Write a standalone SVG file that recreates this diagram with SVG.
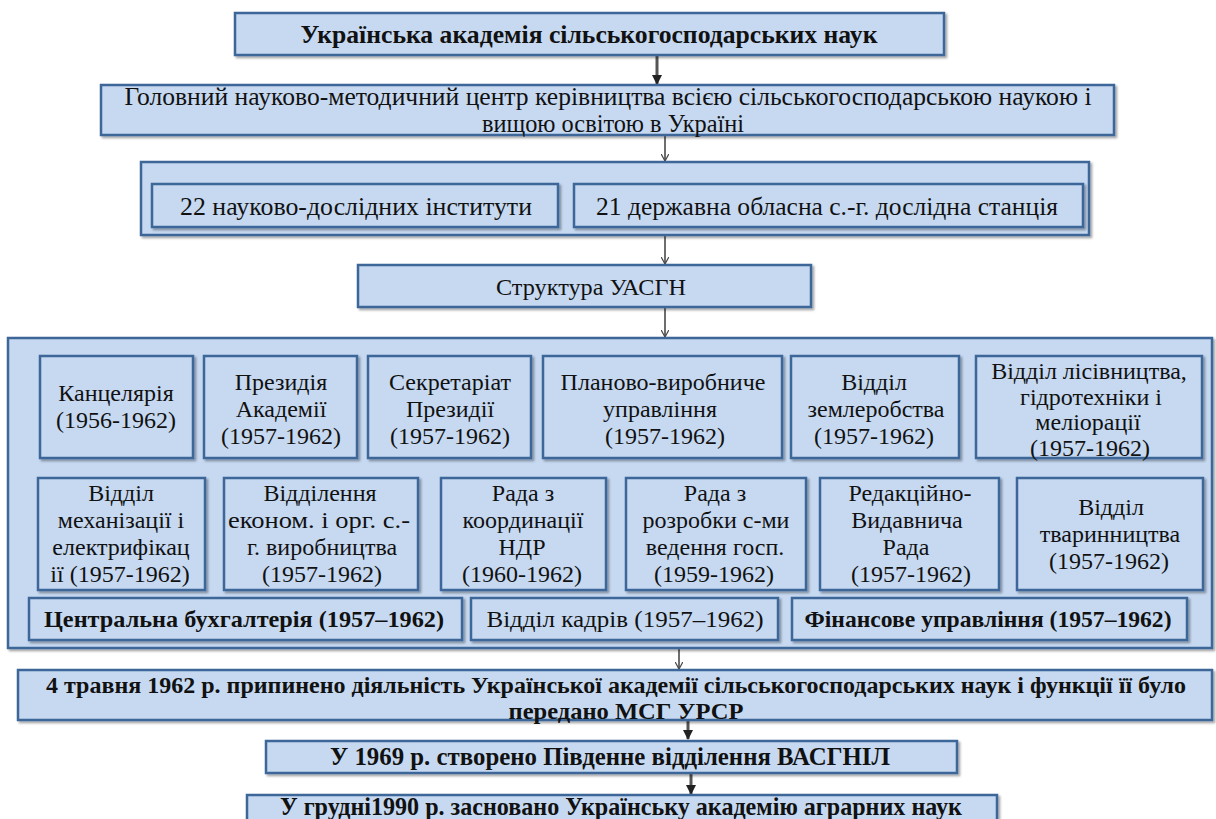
<svg xmlns="http://www.w3.org/2000/svg" width="1216" height="819" viewBox="0 0 1216 819" font-family="'Liberation Serif', 'DejaVu Serif', serif">
<defs>
<style>
text{font-family:'Liberation Serif','DejaVu Serif',serif}
.b{fill:#c6d9f1;stroke:#3d6699;stroke-width:2.5;filter:url(#sh)}
.t{fill:#111;text-anchor:middle}
.s{font-size:24px}
.m{font-size:25px}
.bd{font-weight:bold}
.c{stroke:#4a4a4a;stroke-width:1.6;fill:none;marker-end:url(#ar)}
.ck{stroke:#555;stroke-width:3;fill:none;marker-end:url(#ar2)}
</style>
<filter id="sh" x="-5%" y="-20%" width="110%" height="140%">
<feDropShadow dx="2" dy="2" stdDeviation="1" flood-color="#000" flood-opacity="0.35"/>
</filter>
<marker id="ar" viewBox="0 0 10 10" refX="9" refY="5" markerWidth="8" markerHeight="8" markerUnits="userSpaceOnUse" orient="auto">
<path d="M0,0 L9,5 L0,10" fill="none" stroke="#4a4a4a" stroke-width="1.6"/>
</marker>
<marker id="ar2" viewBox="0 0 10 10" refX="9" refY="5" markerWidth="10" markerHeight="10" markerUnits="userSpaceOnUse" orient="auto">
<path d="M0,0 L10,5 L0,10 Z" fill="#222"/>
</marker>
</defs>
<rect width="1216" height="819" fill="#fff"/>

<g id="connectors">
<line class="ck" x1="657" y1="56" x2="657" y2="84"/>
<line class="c" x1="665" y1="136" x2="665" y2="161"/>
<line class="c" x1="665" y1="236" x2="665" y2="264"/>
<line class="c" x1="665" y1="308" x2="665" y2="337"/>
<line class="c" x1="679" y1="649" x2="679" y2="669"/>
<line class="ck" x1="688" y1="721" x2="688" y2="739"/>
<line class="ck" x1="691" y1="774" x2="691" y2="794"/>
</g>

<g id="n1"><rect class="b" x="235" y="13" width="709" height="42"/>
<text class="t m bd" x="589" y="43" textLength="577" lengthAdjust="spacingAndGlyphs">Українська академія сільськогосподарських наук</text></g>

<g id="n2"><rect class="b" x="101" y="85" width="1013" height="50"/>
<text class="t m" x="608" y="105" textLength="967" lengthAdjust="spacingAndGlyphs">Головний науково-методичний центр керівництва всією сільськогосподарською наукою і</text>
<text class="t m" x="613" y="132" textLength="262" lengthAdjust="spacingAndGlyphs">вищою освітою в Україні</text></g>

<g id="n3"><rect class="b" x="141" y="162" width="948" height="73"/></g>
<g id="n3a"><rect class="b" x="152" y="184" width="406" height="43"/>
<text class="t m" x="356" y="215" textLength="352" lengthAdjust="spacingAndGlyphs">22 науково-дослідних інститути</text></g>
<g id="n3b"><rect class="b" x="574" y="184" width="509" height="43"/>
<text class="t m" x="827" y="215" textLength="462" lengthAdjust="spacingAndGlyphs">21 державна обласна с.-г. дослідна станція</text></g>

<g id="n4"><rect class="b" x="358" y="265" width="453" height="42"/>
<text class="t" font-size="23" x="591" y="295" textLength="190" lengthAdjust="spacingAndGlyphs">Структура УАСГН</text></g>

<g id="n5"><rect class="b" x="8" y="338" width="1204" height="310"/></g>

<g id="r1a"><rect class="b" x="40" y="356" width="153" height="102"/>
<text class="t s" x="116" y="401">Канцелярія</text>
<text class="t s" x="116" y="428">(1956-1962)</text></g>

<g id="r1b"><rect class="b" x="204" y="356" width="153" height="102"/>
<text class="t s" x="281" y="390">Президія</text>
<text class="t s" x="281" y="417">Академії</text>
<text class="t s" x="281" y="444">(1957-1962)</text></g>

<g id="r1c"><rect class="b" x="368" y="356" width="163" height="102"/>
<text class="t s" x="450" y="390">Секретаріат</text>
<text class="t s" x="450" y="417">Президії</text>
<text class="t s" x="450" y="444">(1957-1962)</text></g>

<g id="r1d"><rect class="b" x="543" y="356" width="239" height="102"/>
<text class="t s" x="663" y="390">Планово-виробниче</text>
<text class="t s" x="660" y="417">управління</text>
<text class="t s" x="665" y="444">(1957-1962)</text></g>

<g id="r1e"><rect class="b" x="791" y="356" width="168" height="102"/>
<text class="t s" x="874" y="390">Відділ</text>
<text class="t s" x="876" y="417">землеробства</text>
<text class="t s" x="874" y="444">(1957-1962)</text></g>

<g id="r1f"><rect class="b" x="976" y="356" width="226" height="102"/>
<text class="t s" x="1089" y="379">Відділ лісівництва,</text>
<text class="t s" x="1091" y="405">гідротехніки і</text>
<text class="t s" x="1088" y="430">меліорації</text>
<text class="t s" x="1090" y="456">(1957-1962)</text></g>

<g id="r2a"><rect class="b" x="38" y="478" width="167" height="112"/>
<text class="t s" x="121" y="501">Відділ</text>
<text class="t s" x="121" y="528">механізації і</text>
<text class="t s" x="121" y="555">електрифікац</text>
<text class="t s" x="120" y="582">ії (1957-1962)</text></g>

<g id="r2b"><rect class="b" x="224" y="478" width="194" height="112"/>
<text class="t s" x="320" y="501">Відділення</text>
<text class="t s" x="319" y="528" textLength="182" lengthAdjust="spacingAndGlyphs">економ. і орг. с.-</text>
<text class="t s" x="322" y="555">г. виробництва</text>
<text class="t s" x="322" y="582">(1957-1962)</text></g>

<g id="r2c"><rect class="b" x="441" y="478" width="165" height="112"/>
<text class="t s" x="523" y="501">Рада з</text>
<text class="t s" x="523" y="528">координації</text>
<text class="t s" x="522" y="555">НДР</text>
<text class="t s" x="522" y="582">(1960-1962)</text></g>

<g id="r2d"><rect class="b" x="626" y="478" width="180" height="112"/>
<text class="t s" x="715" y="501">Рада з</text>
<text class="t s" x="716" y="528">розробки с-ми</text>
<text class="t s" x="715" y="555">ведення госп.</text>
<text class="t s" x="714" y="582">(1959-1962)</text></g>

<g id="r2e"><rect class="b" x="820" y="478" width="179" height="112"/>
<text class="t s" x="910" y="501">Редакційно-</text>
<text class="t s" x="907" y="528">Видавнича</text>
<text class="t s" x="906" y="555">Рада</text>
<text class="t s" x="911" y="582">(1957-1962)</text></g>

<g id="r2f"><rect class="b" x="1017" y="478" width="186" height="112"/>
<text class="t s" x="1111" y="515">Відділ</text>
<text class="t s" x="1110" y="542">тваринництва</text>
<text class="t s" x="1109" y="569">(1957-1962)</text></g>

<g id="r3a"><rect class="b" x="29" y="598" width="433" height="42"/>
<text class="t s bd" x="244" y="627" textLength="400" lengthAdjust="spacingAndGlyphs">Центральна бухгалтерія (1957–1962)</text></g>
<g id="r3b"><rect class="b" x="471" y="598" width="307" height="42"/>
<text class="t s" x="625" y="627" textLength="277" lengthAdjust="spacingAndGlyphs">Відділ кадрів (1957–1962)</text></g>
<g id="r3c"><rect class="b" x="792" y="598" width="395" height="42"/>
<text class="t s bd" x="988" y="627" textLength="367" lengthAdjust="spacingAndGlyphs">Фінансове управління (1957–1962)</text></g>

<g id="n6"><rect class="b" x="18" y="670" width="1194" height="50"/>
<text class="t bd" font-size="23" x="616" y="693" textLength="1140" lengthAdjust="spacingAndGlyphs">4 травня 1962  р. припинено діяльність Української академії сільськогосподарських наук і функції її було</text>
<text class="t bd" font-size="23" x="626" y="719" textLength="235" lengthAdjust="spacingAndGlyphs">передано МСГ УРСР</text></g>

<g id="n7"><rect class="b" x="266" y="741" width="691" height="32"/>
<text class="t m bd" x="610" y="765" textLength="560" lengthAdjust="spacingAndGlyphs">У 1969 р. створено Південне  відділення ВАСГНІЛ</text></g>

<g id="n8"><rect class="b" x="247" y="795" width="750" height="40"/>
<text class="t m bd" x="621" y="815" textLength="682" lengthAdjust="spacingAndGlyphs">У грудні1990 р. засновано Українську академію аграрних наук</text></g>
</svg>
